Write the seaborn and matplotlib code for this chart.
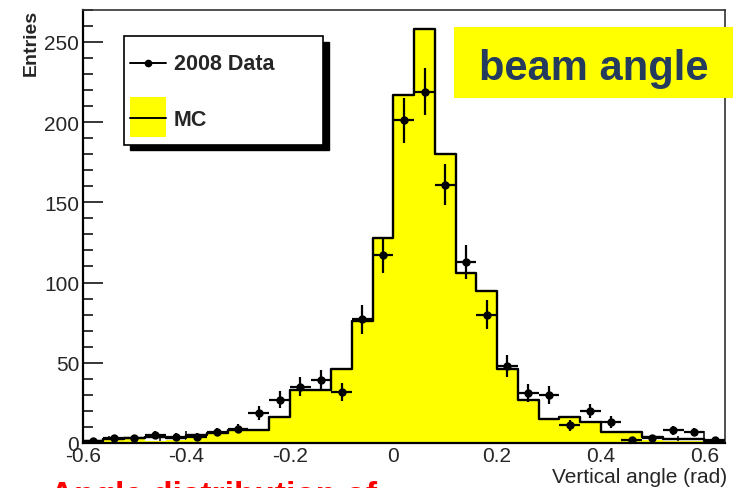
import numpy as np
import matplotlib
matplotlib.use("Agg")
import matplotlib.pyplot as plt
import seaborn as sns
from matplotlib.patches import Rectangle
from matplotlib.lines import Line2D

# ---------------- data ----------------
bin_edges = [-0.60, -0.56, -0.52, -0.48, -0.44, -0.40, -0.36, -0.32, -0.28, -0.24,
             -0.20, -0.16, -0.12, -0.08, -0.04, 0.00, 0.04, 0.08, 0.12, 0.16,
             0.20, 0.24, 0.28, 0.32, 0.36, 0.40, 0.44, 0.48, 0.52, 0.56, 0.60, 0.64]
bin_centers = [-0.58, -0.54, -0.50, -0.46, -0.42, -0.38, -0.34, -0.30, -0.26, -0.22,
               -0.18, -0.14, -0.10, -0.06, -0.02, 0.02, 0.06, 0.10, 0.14, 0.18,
               0.22, 0.26, 0.30, 0.34, 0.38, 0.42, 0.46, 0.50, 0.54, 0.58, 0.62]
mc_outline = [1.5, 2.5, 3, 4, 3, 5, 6, 8, 8, 16,
              33, 33, 46, 76, 128, 217, 258, 180, 106, 95,
              46, 27, 15, 16, 13, 7, 7, 4, 2.5, 2.5, 1.5]
mc_fill = [1.5, 2.5, 3, 1, 2, 5, 6, 8, 8, 16,
           33, 33, 46, 76, 128, 217, 258, 180, 106, 95,
           46, 27, 15, 16, 13, 7, 7, 2, 1.5, 1.5, 1.5]
data_2008 = [1, 3, 3, 5, 4, 4, 7, 9, 19, 27,
             35, 39, 32, 77, 117, 201, 219, 161, 113, 80,
             48, 31, 30, 11, 20, 13, 2, 3, 8, 7, 2]
x_ticks = [-0.6, -0.4, -0.2, 0, 0.2, 0.4, 0.6]
x_ticklabels = ["-0.6", "-0.4", "-0.2", "0", "0.2", "0.4", "0.6"]
y_ticks = [0, 50, 100, 150, 200, 250]

# ---------------- style ----------------
sns.set_style("ticks")
plt.rcParams["font.family"] = ["Liberation Sans", "DejaVu Sans"]

W, H = 733, 489
fig = plt.figure(figsize=(W / 100, H / 100), dpi=100)
ax = fig.add_axes([82.7 / W, 1 - 444 / H, (725 - 82.7) / W, (444 - 10.7) / H])

def fx(px):
    return px / W

def fy(py):
    return 1 - py / H

# MC filled histogram
sns.histplot(x=bin_centers, weights=mc_fill, bins=bin_edges, element="step",
             fill=True, color="#FFFF00", alpha=1, linewidth=0, ax=ax)
# MC outline
sns.histplot(x=bin_centers, weights=mc_outline, bins=bin_edges, element="step",
             fill=False, color="black", linewidth=1.7, ax=ax)
# data points
ax.errorbar(bin_centers, data_2008, yerr=np.sqrt(data_2008), xerr=0.02,
            fmt="o", color="black", ms=5, elinewidth=1.6, capsize=0, zorder=5)

ax.set_xlim(-0.6, 0.64)
ax.set_ylim(0, 270)
ax.set_xticks(x_ticks)
ax.set_xticklabels(x_ticklabels)
ax.set_yticks(y_ticks)
ax.xaxis.set_minor_locator(matplotlib.ticker.MultipleLocator(0.05))
ax.yaxis.set_minor_locator(matplotlib.ticker.MultipleLocator(10))
ax.tick_params(axis="x", which="major", direction="in", length=8.5, width=1.3,
               labelsize=15, pad=2.5)
ax.tick_params(axis="x", which="minor", direction="in", length=5, width=1.3)
ax.tick_params(axis="y", which="major", direction="in", length=14.4, width=1.3,
               labelsize=15, pad=2.5)
ax.tick_params(axis="y", which="minor", direction="in", length=7.2, width=1.3)
ax.set_xlabel("")
ax.set_ylabel("")
for side in ["left", "bottom"]:
    ax.spines[side].set_linewidth(1.6)
    ax.spines[side].set_color("black")
for side in ["top", "right"]:
    ax.spines[side].set_linewidth(1.2)
    ax.spines[side].set_color("#333333")

# axis titles (ROOT style)
fig.text(fx(31), fy(10), "Entries", rotation=90, ha="center", va="top",
         fontsize=14, fontweight="bold")
fig.text(fx(727), fy(487), "Vertical angle (rad)", ha="right", va="bottom",
         fontsize=15)

# legend box with shadow
fig.add_artist(Rectangle((fx(130), fy(151)), fx(329) - fx(130), fy(43) - fy(151),
                         transform=fig.transFigure, facecolor="black",
                         edgecolor="black", zorder=6))
fig.add_artist(Rectangle((fx(124), fy(146)), fx(323) - fx(124), fy(37) - fy(146),
                         transform=fig.transFigure, facecolor="white",
                         edgecolor="black", linewidth=1.2, zorder=7))
fig.add_artist(Line2D([fx(130), fx(166)], [fy(64), fy(64)], transform=fig.transFigure,
                      color="black", linewidth=1.4, marker=None, zorder=8))
fig.add_artist(Line2D([fx(148)], [fy(64)], transform=fig.transFigure,
                      color="black", marker="o", ms=4.5, linestyle="none", zorder=8))
fig.text(fx(174), fy(65), "2008 Data", ha="left", va="center", fontsize=15.5,
         fontweight="bold", zorder=8)
fig.add_artist(Rectangle((fx(130), fy(138)), fx(166) - fx(130), fy(98) - fy(138),
                         transform=fig.transFigure, facecolor="#FFFF00",
                         edgecolor="none", zorder=8))
fig.add_artist(Line2D([fx(130), fx(166)], [fy(119), fy(119)], transform=fig.transFigure,
                      color="black", linewidth=1.4, zorder=9))
fig.text(fx(174), fy(120), "MC", ha="left", va="center", fontsize=15.5,
         fontweight="bold", zorder=8)

# "beam angle" label
fig.add_artist(Rectangle((fx(454), fy(99)), fx(740) - fx(454), fy(28) - fy(99),
                         transform=fig.transFigure, facecolor="#FFFF00",
                         edgecolor="none", zorder=6, clip_on=False))
fig.text(fx(594), fy(80), "beam angle", ha="center", va="baseline", fontsize=30,
         fontweight="bold", color="#243B5E", zorder=7)

# clipped red caption at the bottom of the slide (only its top is visible)
fig.text(fx(50), fy(481), "Angle distribution of", ha="left", va="top",
         fontsize=24, fontweight="bold", color="#FF0000")

fig.savefig("out.png", dpi=100)
